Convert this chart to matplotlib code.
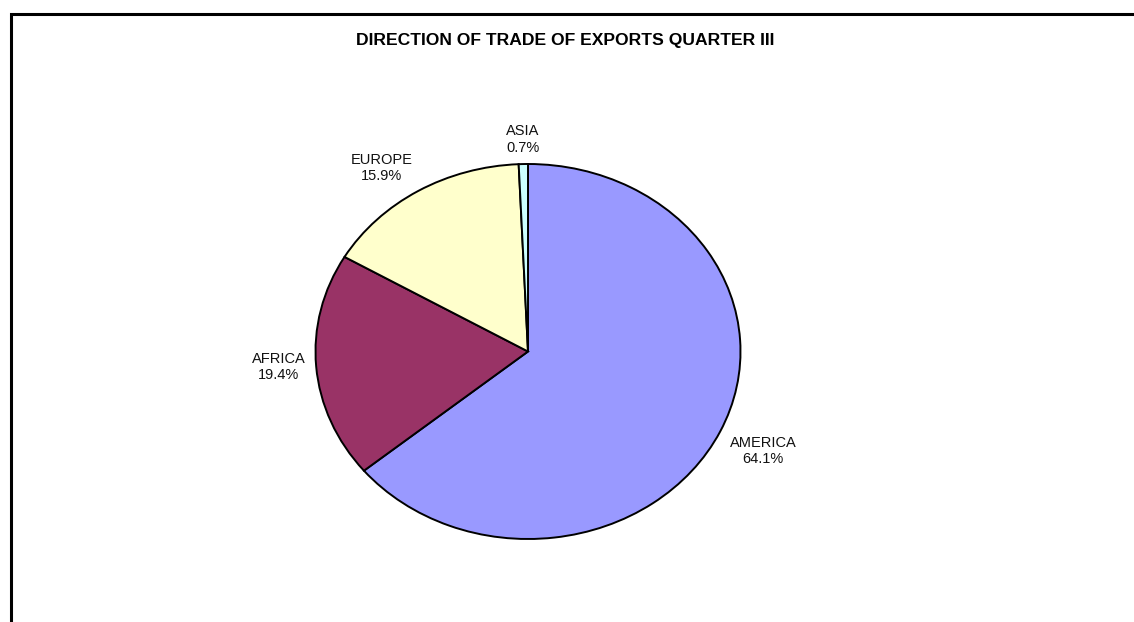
import numpy as np
import matplotlib
matplotlib.use("Agg")
import matplotlib.pyplot as plt
from matplotlib.patches import Rectangle

plt.rcParams['font.family'] = ['Liberation Sans', 'DejaVu Sans']

# Export shares by region, in drawing order (clockwise from 12 o'clock)
regions = ['AMERICA', 'AFRICA', 'EUROPE', 'ASIA']
shares = [64.1, 19.4, 15.9, 0.7]
colors = ['#9999FF', '#993366', '#FFFFCC', '#CCFFFF']
title = 'DIRECTION OF TRADE OF EXPORTS QUARTER III'

W, H = 1134, 622
fig = plt.figure(figsize=(W / 100, H / 100), dpi=100)
fig.patch.set_facecolor('white')

# chart area border (runs off the right and bottom edges)
border_top = 1 - 13.8 / H
fig.patches.append(Rectangle((10.8 / W, -0.2), 1.2, border_top + 0.2,
                             transform=fig.transFigure, fill=False,
                             edgecolor='black', linewidth=2.2, zorder=0))

fig.text(565 / W, 1 - 40.5 / H, title, ha='center', va='center',
         fontsize=12.6, fontweight='bold')

# pie is drawn stretched into an ellipse
left, right, top, bottom = 315.5, 740.5, 164, 539
ax = fig.add_axes([left / W, 1 - bottom / H, (right - left) / W, (bottom - top) / H])
wedges, _ = ax.pie(shares, colors=colors, startangle=90, counterclock=False,
                   wedgeprops=dict(edgecolor='black', linewidth=1.4))
ax.set_aspect('auto')
ax.set_xlim(-1, 1)
ax.set_ylim(-1, 1)
ax.axis('off')

for w, name, val in zip(wedges, regions, shares):
    mid = np.deg2rad((w.theta1 + w.theta2) / 2)
    c, s = np.cos(mid), np.sin(mid)
    ha = 'left' if c > 0.2 else ('right' if c < -0.2 else 'center')
    va = 'bottom' if s > 0.2 else ('top' if s < -0.2 else 'center')
    ax.text(1.05 * c, 1.05 * s, f'{name}\n{val:.1f}%', ha=ha, va=va,
            multialignment='center', fontsize=10.5, linespacing=1.2,
            color='#111111', clip_on=False)

fig.savefig('out.png', dpi=100, facecolor='white')
